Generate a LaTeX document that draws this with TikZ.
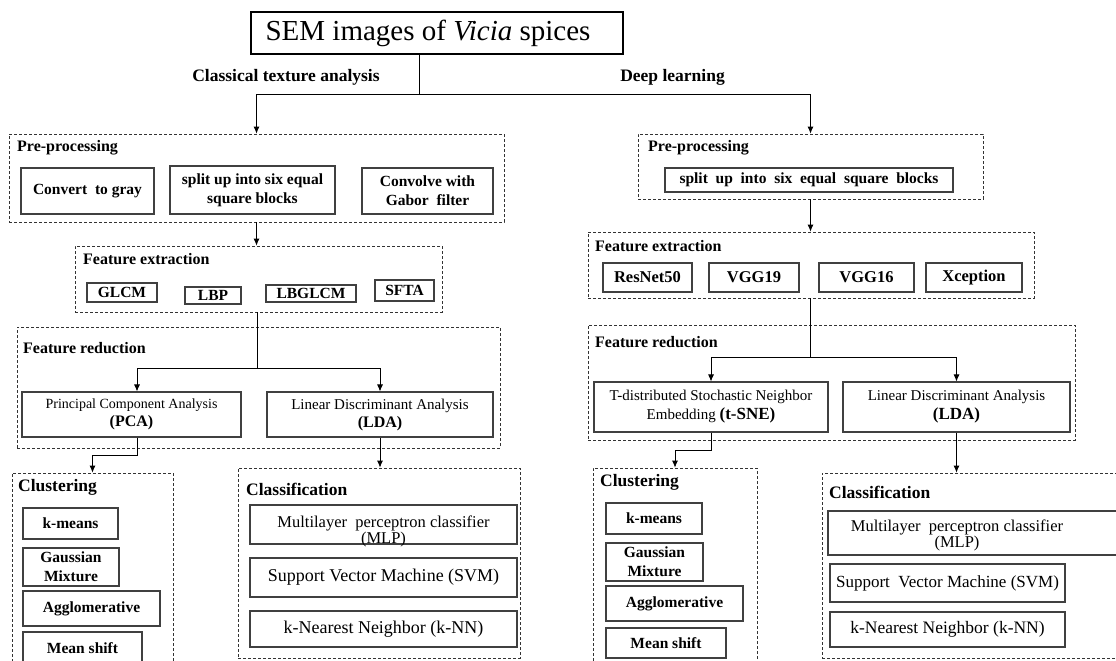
\documentclass[tikz,border=0pt]{standalone}
\usepackage{fontspec}
\setmainfont{Liberation Serif}
\usetikzlibrary{arrows.meta,calc}
\begin{document}
\begin{tikzpicture}[x=1pt,y=-1pt,
  box/.style={draw=black!75, line width=1.1pt, inner sep=0pt, align=center, font=\bfseries\fontsize{15.5}{19}\selectfont},
  rbox/.style={box, font=\fontsize{14.5}{18}\selectfont},
  cbox/.style={box, font=\fontsize{18}{16}\selectfont},
  txt/.style={inner sep=0pt, align=center, font=\fontsize{16.5}{16}\selectfont},
  grp/.style={draw=black!80, dash pattern=on 3pt off 2pt, line width=0.8pt, inner sep=0pt},
  lbl/.style={anchor=west, inner sep=0pt, font=\bfseries\fontsize{16}{18}\selectfont},
  arr/.style={-{Latex[length=7pt,width=6pt]}, line width=0.8pt},
  ln/.style={line width=0.8pt}]
\useasboundingbox (0,0) rectangle (1116,661);
\clip (0,0) rectangle (1116,661);

% title
\node[draw=black, line width=2pt, minimum width=372pt, minimum height=42pt, inner sep=0pt,
  font=\fontsize{29}{32}\selectfont] (title) at (437,33) {};
\node[inner sep=0pt, font=\fontsize{29}{32}\selectfont] (titletext) at (428,33) {SEM images of \textit{Vicia} spices};
\node[inner sep=0pt, font=\bfseries\fontsize{17.5}{20}\selectfont] (cta) at (286,77) {Classical texture analysis};
\node[inner sep=0pt, font=\bfseries\fontsize{17.5}{20}\selectfont] (dl) at (672.5,77) {Deep learning};

% ---------- left branch ----------
\node[grp, minimum width=495pt, minimum height=88pt] (preL) at (256.5,178) {};
\node[lbl] (preLl) at (17,148) {Pre-processing};
\node[box, minimum width=133pt, minimum height=46pt] (gray) at (87.5,191) {Convert\ \ to gray};
\node[box, minimum width=165pt, minimum height=48pt] (splitL) at (252.5,190) {split up into six equal\\square blocks};
\node[box, minimum width=131pt, minimum height=46pt] (gabor) at (427.5,191) {Convolve with\\Gabor\ \ filter};

\node[grp, minimum width=367pt, minimum height=66pt] (feL) at (258.5,279) {};
\node[lbl] (feLl) at (83,259) {Feature extraction};
\node[box, minimum width=70pt, minimum height=19pt] (glcm) at (122,292.5) {GLCM};
\node[box, minimum width=56pt, minimum height=17pt] (lbp) at (213,295.5) {LBP};
\node[box, minimum width=90pt, minimum height=17pt] (lbglcm) at (311,293.5) {LBGLCM};
\node[box, minimum width=59pt, minimum height=21pt] (sfta) at (404.5,290.5) {SFTA};

\node[grp, minimum width=483pt, minimum height=121pt] (frL) at (258.5,387.5) {};
\node[lbl] (frLl) at (23,348) {Feature reduction};
\node[rbox, minimum width=219pt, minimum height=45pt, font=\fontsize{14}{18}\selectfont] (pca) at (131.5,414.5) {Principal Component Analysis\\\textbf{\fontsize{16}{18}\selectfont(PCA)}};
\node[rbox, minimum width=226pt, minimum height=45pt, font=\fontsize{15}{18}\selectfont] (ldaL) at (380,414.5) {Linear Discriminant Analysis\\\textbf{\fontsize{16}{18}\selectfont(LDA)}};

\node[grp, minimum width=161pt, minimum height=207pt] (clL) at (92.5,576.5) {};
\node[lbl, font=\bfseries\fontsize{17.5}{20}\selectfont] (clLl) at (18,487) {Clustering};
\node[box, minimum width=95pt, minimum height=31pt] (kmL) at (70.5,523.5) {k-means};
\node[box, minimum width=96pt, minimum height=38pt] (gmL) at (71,567) {Gaussian\\Mixture};
\node[box, minimum width=137pt, minimum height=35pt] (agL) at (91.5,608.5) {Agglomerative};
\node[box, minimum width=119pt, minimum height=32pt] (msL) at (82.5,648) {Mean shift};

\node[grp, minimum width=282pt, minimum height=190pt] (clsL) at (379,563) {};
\node[lbl, font=\bfseries\fontsize{17.5}{20}\selectfont] (clsLl) at (246,489) {Classification};
\node[cbox, minimum width=267pt, minimum height=39pt] (mlpL) at (383.5,524.5) {};
\node[txt] (mlpLt) at (383.5,531) {Multilayer\ \ perceptron classifier\\(MLP)};
\node[cbox, minimum width=267pt, minimum height=39pt] (svmL) at (383.5,577.5) {Support\ Vector Machine\ (SVM)};
\node[cbox, minimum width=267pt, minimum height=36pt] (knnL) at (383.5,629) {k-Nearest Neighbor\ (k-NN)};

% ---------- right branch ----------
\node[grp, minimum width=345pt, minimum height=65pt] (preR) at (810.5,166.5) {};
\node[lbl] (preRl) at (648,148) {Pre-processing};
\node[box, minimum width=288pt, minimum height=24pt] (splitR) at (809,180) {split\ \ up\ \ into\ \ six\ \ equal\ \ square\ \ blocks};

\node[grp, minimum width=446pt, minimum height=66pt] (feR) at (811,265) {};
\node[lbl] (feRl) at (595,246) {Feature extraction};
\node[box, minimum width=89pt, minimum height=29pt, font=\bfseries\fontsize{16.5}{19}\selectfont] (resnet) at (647.5,277.5) {ResNet50};
\node[box, minimum width=90pt, minimum height=29pt, font=\bfseries\fontsize{16.5}{19}\selectfont] (vgg19) at (754,277.5) {VGG19};
\node[box, minimum width=95pt, minimum height=29pt, font=\bfseries\fontsize{16.5}{19}\selectfont] (vgg16) at (866.5,277.5) {VGG16};
\node[box, minimum width=96pt, minimum height=29pt, font=\bfseries\fontsize{16.5}{19}\selectfont] (xcep) at (974,277.5) {Xception};

\node[grp, minimum width=487pt, minimum height=115pt] (frR) at (831.5,382.5) {};
\node[lbl] (frRl) at (595,342) {Feature reduction};
\node[rbox, minimum width=234pt, minimum height=50pt, font=\fontsize{15}{19}\selectfont] (tsne) at (711,407) {T-distributed Stochastic Neighbor\\Embedding \textbf{\fontsize{17}{19}\selectfont(t-SNE)}};
\node[rbox, minimum width=227pt, minimum height=50pt, font=\fontsize{15}{19}\selectfont] (ldaR) at (956.5,407) {Linear\ Discriminant Analysis\\\textbf{\fontsize{17}{19}\selectfont(LDA)}};

\node[grp, minimum width=164pt, minimum height=212pt] (clR) at (675,574) {};
\node[lbl, font=\bfseries\fontsize{17.5}{20}\selectfont] (clRl) at (600,482) {Clustering};
\node[box, minimum width=96pt, minimum height=31pt] (kmR) at (654,518.5) {k-means};
\node[box, minimum width=97pt, minimum height=38pt] (gmR) at (654.5,562) {Gaussian\\Mixture};
\node[box, minimum width=137pt, minimum height=35pt] (agR) at (674.5,603.5) {Agglomerative};
\node[box, minimum width=120pt, minimum height=30pt] (msR) at (666,643) {Mean shift};

\node[grp, minimum width=308pt, minimum height=185pt] (clsR) at (976,565.5) {};
\node[lbl, font=\bfseries\fontsize{17.5}{20}\selectfont] (clsRl) at (829,492) {Classification};
\node[cbox, minimum width=312pt, minimum height=44pt] (mlpR) at (984,533) {};
\node[txt] (mlpRt) at (957,535) {Multilayer\ \ perceptron classifier\\(MLP)};
\node[cbox, minimum width=235pt, minimum height=38pt, font=\fontsize{17}{16}\selectfont] (svmR) at (947.5,583) {Support\ \ Vector Machine\ (SVM)};
\node[cbox, minimum width=235pt, minimum height=35pt, font=\fontsize{17.5}{16}\selectfont] (knnR) at (947.5,629.5) {k-Nearest Neighbor\ (k-NN)};

% ---------- connectors ----------
\coordinate (j) at (419,94);
\draw[ln] (j |- title.south) -- (j);
\draw[arr] (j) -| (preL.north);
\draw[arr] (j) -| (preR.north);

\draw[arr] (preL.south) -- (preL.south |- feL.north);
\draw[arr] (preR.south) -- (preR.south |- feR.north);

\coordinate (bl) at (257,368);
\draw[ln] (bl |- feL.south) -- (bl);
\draw[arr] (bl) -| ([xshift=5.5pt]pca.north);
\draw[arr] (bl) -| (ldaL.north);

\coordinate (br) at (810,357);
\draw[ln] (br |- feR.south) -- (br);
\draw[arr] (br) -| (tsne.north);
\draw[arr] (br) -| (ldaR.north);

\draw[arr] ([xshift=5.5pt]pca.south) -- ++(0,18) -| (clL.north);
\draw[arr] (ldaL.south) -- (ldaL.south |- clsL.north);
\draw[arr] (tsne.south) -- ++(0,18) -| (clR.north);
\draw[arr] (ldaR.south) -- (ldaR.south |- clsR.north);
\end{tikzpicture}
\end{document}
